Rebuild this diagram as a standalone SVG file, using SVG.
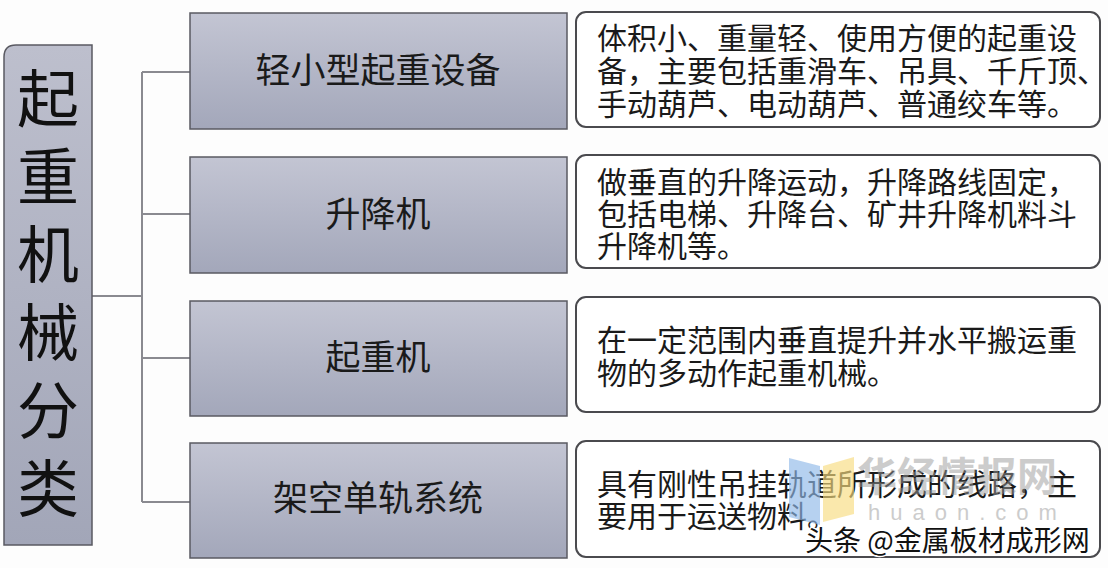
<svg xmlns="http://www.w3.org/2000/svg" width="1108" height="568" viewBox="0 0 1108 568">
<defs>
<linearGradient id="gm" x1="0" y1="0" x2="0" y2="1">
<stop offset="0" stop-color="#c3c5d3"/>
<stop offset="1" stop-color="#a3a7ba"/>
</linearGradient>
<linearGradient id="gl" x1="0" y1="0" x2="0" y2="1">
<stop offset="0" stop-color="#bdbfcd"/>
<stop offset="1" stop-color="#a2a6b8"/>
</linearGradient>
</defs>
<style>
.mid{fill:url(#gm);stroke:#5a5a62;stroke-width:1.5}
.desc{fill:#fff;stroke:#4a4a4e;stroke-width:2}
.mt{font-family:"Noto Sans CJK SC",sans-serif;font-size:35px;fill:#1a1a1a;text-anchor:middle}
.dt{font-family:"Noto Sans CJK SC",sans-serif;font-size:30px;fill:#1a1a1a}
.lt{font-family:"Noto Sans CJK SC",sans-serif;font-size:62px;fill:#111;text-anchor:middle}
.con{fill:none;stroke:#8a8a90;stroke-width:2}
</style>
<rect width="1108" height="568" fill="#fdfdfd"/>
<g id="connectors">
<path class="con" d="M92 296H142M142 72V502M142 72H190M142 214H190M142 358H190M142 502H190"/>
</g>
<g id="root">
<path d="M4 57Q4 45 16 45H92V545H4Z" fill="url(#gl)" stroke="#5a5a62" stroke-width="1.5"/>
<text class="lt" x="48" y="122">起</text>
<text class="lt" x="48" y="200">重</text>
<text class="lt" x="48" y="278">机</text>
<text class="lt" x="48" y="356">械</text>
<text class="lt" x="48" y="434">分</text>
<text class="lt" x="48" y="512">类</text>
</g>
<g id="n1">
<rect class="mid" x="190" y="13" width="377" height="116"/>
<text class="mt" x="378" y="83">轻小型起重设备</text>
</g>
<g id="n2">
<rect class="mid" x="190" y="157" width="377" height="116"/>
<text class="mt" x="378" y="227">升降机</text>
</g>
<g id="n3">
<rect class="mid" x="190" y="301" width="377" height="115"/>
<text class="mt" x="378" y="370">起重机</text>
</g>
<g id="n4">
<rect class="mid" x="190" y="443" width="377" height="115"/>
<text class="mt" x="378" y="511">架空单轨系统</text>
</g>
<g id="d1">
<rect class="desc" x="576" y="12" width="524" height="115" rx="10"/>
<text class="dt" x="597" y="49">体积小、重量轻、使用方便的起重设</text>
<text class="dt" x="597" y="82">备，主要包括重滑车、吊具、千斤顶、</text>
<text class="dt" x="597" y="115">手动葫芦、电动葫芦、普通绞车等。</text>
</g>
<g id="d2">
<rect class="desc" x="576" y="155" width="524" height="113" rx="10"/>
<text class="dt" x="597" y="193">做垂直的升降运动，升降路线固定，</text>
<text class="dt" x="597" y="225">包括电梯、升降台、矿井升降机料斗</text>
<text class="dt" x="597" y="257">升降机等。</text>
</g>
<g id="d3">
<rect class="desc" x="576" y="297" width="524" height="115" rx="10"/>
<text class="dt" x="597" y="351">在一定范围内垂直提升并水平搬运重</text>
<text class="dt" x="597" y="384">物的多动作起重机械。</text>
</g>
<g id="d4">
<rect class="desc" x="576" y="441" width="524" height="116" rx="10"/>
<text class="dt" x="597" y="495">具有刚性吊挂轨道所形成的线路，主</text>
<text class="dt" x="597" y="527">要用于运送物料。</text>
</g>
<g id="watermark">
<polygon points="789,458 820,466 820,525 789,517" fill="#8fb8e8" opacity="0.65"/>
<polygon points="823,466 854,457 854,514 823,522" fill="#f7dc80" opacity="0.65"/>
<text x="857" y="491" font-family="Noto Sans CJK SC,sans-serif" font-size="40" font-weight="bold" fill="#9a9a9a" opacity="0.5">华经情报网</text>
<text x="868" y="520" font-family="Liberation Sans,sans-serif" font-size="22" fill="#9a9a9a" opacity="0.5" letter-spacing="10">huaon.com</text>
<text x="805" y="551" font-family="Noto Sans CJK SC,sans-serif" font-size="28" fill="#111" stroke="#fff" stroke-width="3" paint-order="stroke">头条 @金属板材成形网</text>
</g>
</svg>
